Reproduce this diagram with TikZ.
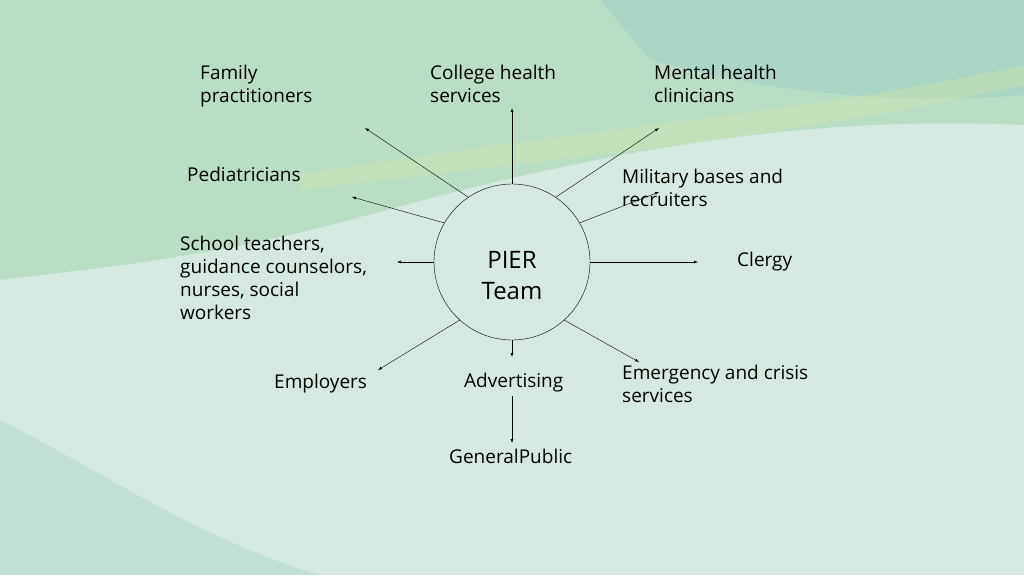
\documentclass[tikz,border=0pt]{standalone}
\usepackage{fontspec}
\setmainfont{Open Sans}
\usetikzlibrary{arrows}
\tikzset{>=latex}
\definecolor{bgmain}{HTML}{D6E9E1}
\definecolor{wavea}{HTML}{B4DAC0}
\definecolor{waveb}{HTML}{A3D0C6}
\definecolor{wavec}{HTML}{CDE4AC}
\begin{document}
\begin{tikzpicture}[x=1pt,y=-1pt]
  \tikzset{lbl/.style={anchor=north west, align=left, inner sep=0pt,
      font=\fontsize{19}{23}\selectfont},
    spoke/.style={->, thin, black}}
  % background
  \fill[bgmain] (0,0) rectangle (1024,575);
  \fill[wavea, opacity=.8] (0,0) -- (1024,0) -- (1024,125)
    .. controls (800,115) and (600,150) .. (350,220)
    .. controls (200,260) and (80,270) .. (0,280) -- cycle;
  \fill[waveb, opacity=.6] (600,0) -- (1024,0) -- (1024,95)
    .. controls (900,105) and (780,95) .. (650,60) -- cycle;
  \fill[wavec, opacity=.45] (300,175) .. controls (600,125) and (800,115) .. (1024,65)
    -- (1024,85) .. controls (800,135) and (600,155) .. (300,190) -- cycle;
  \fill[waveb, opacity=.4] (0,420) .. controls (100,470) and (200,540) .. (320,575)
    -- (0,575) -- cycle;
  \useasboundingbox (0,0) rectangle (1024,575);
  % hub
  \node[circle, draw, minimum size=156pt, inner sep=0pt] (pier) at (512,262) {};
  \node[align=center, font=\fontsize{24}{31}\selectfont] (pierTxt) at (512,276) {PIER\\Team};
  % labels
  \node[lbl] (fam) at (200,65) {Family\\practitioners};
  \node[lbl] (col) at (430,65) {College health\\services};
  \node[lbl] (men) at (654,65) {Mental health\\clinicians};
  \node[lbl] (ped) at (187,167) {Pediatricians};
  \node[lbl] (mil) at (622,169) {Military bases and\\recruiters};
  \node[lbl] (sch) at (180,236) {School teachers,\\guidance counselors,\\nurses, social\\workers};
  \node[lbl] (cle) at (737,252) {Clergy};
  \node[lbl] (emp) at (274,374) {Employers};
  \node[lbl] (adv) at (464,373) {Advertising};
  \node[lbl] (eme) at (622,365) {Emergency and crisis\\services};
  \node[lbl] (gen) at (449,449) {GeneralPublic};
  % arrow tips
  \coordinate (famE) at (365,128);
  \coordinate (colE) at (512,108);
  \coordinate (menE) at (659,128);
  \coordinate (pedE) at (352,197);
  \coordinate (milE) at (659,192);
  \coordinate (schE) at (397,262);
  \coordinate (cleE) at (698,262);
  \coordinate (empE) at (378,370);
  \coordinate (advE) at (512,357);
  \coordinate (emeE) at (639,362);
  % spokes
  \draw[spoke] (pier.124) -- (famE);
  \draw[spoke] (pier.90) -- (colE);
  \draw[spoke] (pier.56) -- (menE);
  \draw[spoke] (pier.150) -- (pedE);
  \draw[spoke] (pier.30) -- (milE);
  \draw[spoke] (pier.180) -- (schE);
  \draw[spoke] (pier.0) -- (cleE);
  \draw[spoke] (pier.228) -- (empE);
  \draw[spoke] (pier.270) -- (advE);
  \draw[spoke] (pier.312) -- (emeE);
  \draw[spoke] ([yshift=-4pt]adv.south -| 512,0) -- ([yshift=6pt]gen.north -| 512,0);
\end{tikzpicture}
\end{document}
